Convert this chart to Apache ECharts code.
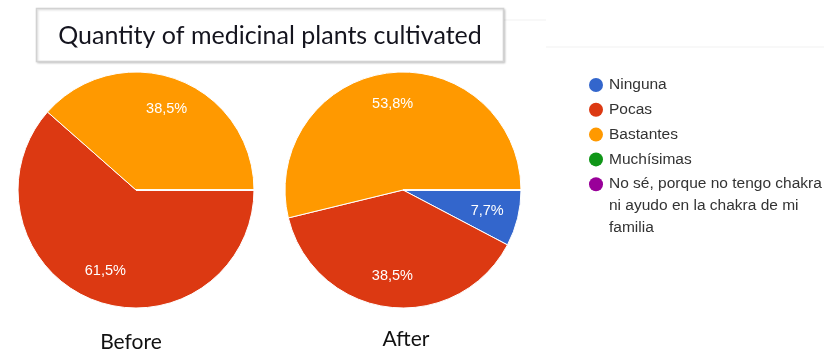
<!DOCTYPE html>
<html>
<head>
<meta charset="utf-8">
<script src="https://cdn.jsdelivr.net/npm/echarts@6/dist/echarts.min.js"></script>
<style>
  html, body { margin: 0; padding: 0; background: #ffffff; }
  #chart { width: 824px; height: 353px; }
</style>
</head>
<body>
<div id="chart"></div>
<script>
// Answer categories (legend order = slice order)
const categories = [
  'Ninguna',
  'Pocas',
  'Bastantes',
  'Muchísimas',
  'No sé, porque no tengo chakra\nni ayudo en la chakra de mi\nfamilia'
];
// Share of answers, in percent
const beforeValues = [0, 61.5, 38.5, 0, 0];
const afterValues = [7.7, 38.5, 53.8, 0, 0];
const pieCaptions = ['Before', 'After'];
const chartTitle = 'Quantity of medicinal plants cultivated';
const palette = ['#3366cc', '#dc3912', '#ff9900', '#109618', '#990099'];

const PIE_R = 118;
const pieCenters = [[136, 190], [403, 190]];
const LABEL_RATIO = 0.735;
const seriesValues = [beforeValues, afterValues];

function pctText(v) {
  return v.toFixed(1).replace('.', ',') + '%';
}

// Put each slice label along the slice's middle angle, ~3/4 of the radius out
function placeLabel(params) {
  const vals = seriesValues[params.seriesIndex];
  const total = vals.reduce((a, b) => a + b, 0);
  let cum = 0;
  for (let i = 0; i < params.dataIndex; i++) cum += vals[i];
  const mid = (cum + vals[params.dataIndex] / 2) / total * Math.PI * 2;
  const c = pieCenters[params.seriesIndex];
  const d = PIE_R * LABEL_RATIO;
  return {
    x: c[0] + d * Math.cos(mid),
    y: c[1] + d * Math.sin(mid),
    align: 'center',
    verticalAlign: 'middle'
  };
}

function pieSeries(idx) {
  return {
    type: 'pie',
    center: pieCenters[idx],
    radius: PIE_R,
    startAngle: 0,
    clockwise: true,
    silent: true,
    minShowLabelAngle: 0.5,
    data: categories.map((name, i) => ({ name: name, value: seriesValues[idx][i] })),
    itemStyle: { borderColor: '#ffffff', borderWidth: 1 },
    label: {
      show: true,
      position: 'inside',
      color: '#ffffff',
      fontFamily: '"Liberation Sans", Arial, sans-serif',
      fontSize: 14.5,
      formatter: p => (p.value > 0 ? pctText(p.value) : '')
    },
    labelLine: { show: false },
    labelLayout: placeLabel,
    emphasis: { disabled: true }
  };
}

// Legend: a dot per category, its text's first line level with the dot
const LEGEND_X = 596;
const LEGEND_Y0 = 85;
const LEGEND_STEP = 24.8;
const legendItems = [];
categories.forEach((name, i) => {
  const y = LEGEND_Y0 + i * LEGEND_STEP;
  legendItems.push({
    type: 'circle',
    shape: { cx: LEGEND_X, cy: y, r: 7 },
    style: { fill: palette[i] },
    silent: true
  });
  legendItems.push({
    type: 'text',
    x: LEGEND_X + 13,
    y: y - 11,
    style: {
      text: name,
      fill: '#333333',
      font: '15.5px "Liberation Sans", Arial, sans-serif',
      lineHeight: 22,
      align: 'left',
      verticalAlign: 'top'
    },
    silent: true
  });
});

const chart = echarts.init(document.getElementById('chart'), null, { renderer: 'canvas' });

chart.setOption({
  animation: false,
  backgroundColor: '#ffffff',
  color: palette,
  series: [pieSeries(0), pieSeries(1)],
  graphic: [
    // faint separator lines at the top right
    { type: 'line', shape: { x1: 503, y1: 20, x2: 546, y2: 20 }, style: { stroke: '#f1f1f1', lineWidth: 1 }, silent: true },
    { type: 'line', shape: { x1: 546, y1: 47, x2: 824, y2: 47 }, style: { stroke: '#f1f1f1', lineWidth: 1 }, silent: true },
    // title box
    {
      type: 'rect',
      shape: { x: 36.5, y: 8.5, width: 467, height: 53 },
      style: {
        fill: '#ffffff', stroke: '#d2d2d2', lineWidth: 1.5,
        shadowColor: 'rgba(0,0,0,0.15)', shadowBlur: 2, shadowOffsetX: 1, shadowOffsetY: 1
      },
      silent: true
    },
    {
      type: 'text',
      x: 270,
      y: 36,
      style: {
        text: chartTitle,
        fill: '#14141e',
        font: '25px Lato, "Open Sans", sans-serif',
        align: 'center',
        verticalAlign: 'middle'
      },
      silent: true
    },
    {
      type: 'text',
      x: 131,
      y: 342,
      style: {
        text: pieCaptions[0],
        fill: '#111111',
        font: '21px Lato, "Open Sans", sans-serif',
        align: 'center',
        verticalAlign: 'middle'
      },
      silent: true
    },
    {
      type: 'text',
      x: 406,
      y: 339,
      style: {
        text: pieCaptions[1],
        fill: '#111111',
        font: '21px Lato, "Open Sans", sans-serif',
        align: 'center',
        verticalAlign: 'middle'
      },
      silent: true
    }
  ].concat(legendItems)
});
</script>
</body>
</html>
